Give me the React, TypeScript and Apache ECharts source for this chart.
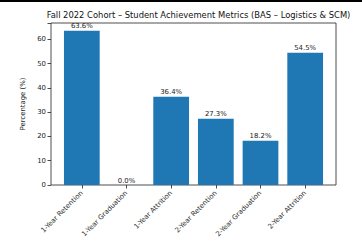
import React, { useEffect, useRef } from "react";
import * as echarts from "echarts";

const categories = [
  "1-Year Retention",
  "1-Year Graduation",
  "1-Year Attrition",
  "2-Year Retention",
  "2-Year Graduation",
  "2-Year Attrition",
];
const values = [63.6, 0.0, 36.4, 27.3, 18.2, 54.5];
const yTicks = [0, 10, 20, 30, 40, 50, 60];

const FONT = "DejaVu Sans";

export default function App() {
  const ref = useRef<HTMLDivElement>(null);
  useEffect(() => {
    if (!ref.current) return;
    const chart = echarts.init(ref.current, null, { renderer: "svg" });
    const yMax = Math.max(...values) * 1.05;
    const L = 51, R = 336, T = 23, B = 185;
    const unit = (R - L) / (categories.length - 1 + 0.8 + 0.58);
    const innerL = L + 0.19 * unit;
    const innerW = categories.length * unit;
    chart.setOption({
      animation: false,
      backgroundColor: "#fff",
      title: {
        text: "Fall 2022 Cohort – Student Achievement Metrics (BAS – Logistics & SCM)",
        left: (L + R) / 2,
        textAlign: "center",
        top: 6,
        textStyle: { fontFamily: FONT, fontSize: 8.4, fontWeight: "normal", color: "#111" },
      },
      graphic: [
        { type: "rect", shape: { x: 0, y: 0, width: 362, height: 2 }, style: { fill: "#000" } },
      ],
      grid: [
        { left: L, top: T, width: R - L, height: B - T, show: true, borderColor: "#222", borderWidth: 0.8, backgroundColor: "transparent" },
        { left: innerL, top: T, width: innerW, height: B - T },
      ],
      xAxis: [
        { gridIndex: 0, type: "value", min: 0, max: 1, show: false },
        {
          gridIndex: 1,
          type: "category",
          data: categories,
          axisLine: { show: false },
          axisTick: { show: true, alignWithLabel: true, length: 3.5, lineStyle: { color: "#222", width: 0.8 } },
          axisLabel: { rotate: 45, fontFamily: FONT, fontSize: 6.9, color: "#333", margin: 7, interval: 0 },
        },
      ],
      yAxis: [
        {
          gridIndex: 0,
          type: "value",
          min: 0,
          max: yMax,
          interval: 10,
          name: "Percentage (%)",
          nameLocation: "middle",
          nameGap: 24,
          nameTextStyle: { fontFamily: FONT, fontSize: 6.9, color: "#222" },
          axisLine: { show: false },
          axisTick: { show: true, length: 3.5, lineStyle: { color: "#222", width: 0.8 } },
          axisLabel: {
            fontFamily: FONT, fontSize: 6.9, color: "#222", margin: 5,
            formatter: (v: number) => (yTicks.includes(Math.round(v)) && Math.abs(v - Math.round(v)) < 1e-6 ? String(v) : ""),
          },
          splitLine: { show: false },
        },
        { gridIndex: 1, type: "value", min: 0, max: yMax, show: false },
      ],
      series: [
        {
          type: "bar",
          xAxisIndex: 1,
          yAxisIndex: 1,
          data: values,
          barWidth: "80%",
          itemStyle: { color: "#1f77b4" },
          label: {
            show: true,
            position: "top",
            distance: 1,
            fontFamily: FONT,
            fontSize: 6.9,
            color: "#222",
            formatter: (p: any) => p.value.toFixed(1) + "%",
          },
        },
      ],
    });
    return () => chart.dispose();
  }, []);
  return <div ref={ref} style={{ width: 362, height: 247, position: "absolute", left: 0, top: 0 }} />;
}
